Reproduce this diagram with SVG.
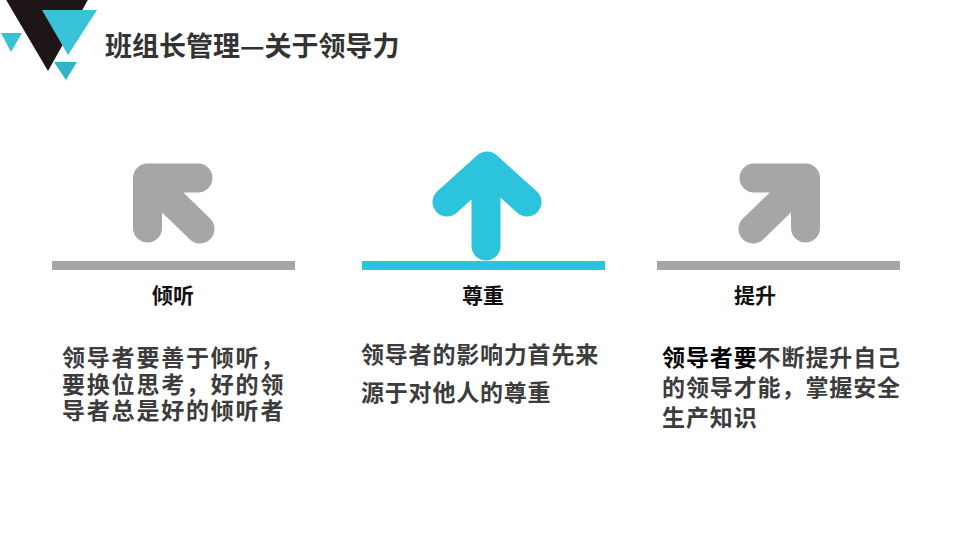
<svg xmlns="http://www.w3.org/2000/svg" width="960" height="540" viewBox="0 0 960 540">
<style>
.t{font-family:"Noto Sans CJK SC","Microsoft YaHei",sans-serif;font-weight:bold}
.title{font-size:27px;fill:#333}
.lbl{font-size:21px;fill:#111;text-anchor:middle}
.body{font-size:23px;fill:#3c3c3c}
.gray{fill:none;stroke:#a6a6a6;stroke-linecap:round;stroke-linejoin:round;stroke-width:29}
.cyan{fill:none;stroke:#2cc3dc;stroke-linecap:round;stroke-linejoin:round;stroke-width:29}
.barg{fill:#a6a6a6}
.barc{fill:#2cc3dc}
</style>
<rect width="960" height="540" fill="#fff"/>
<g id="logo">
<polygon points="5,-2 89,-2 48,71" fill="#1e1616"/>
<polygon points="42,10 97,10 68,55" fill="#38c2d8"/>
<polygon points="1,33 22,33 11,52" fill="#38c2d8"/>
<polygon points="54,62 77,62 66,80" fill="#2fb4c8"/>
</g>
<g id="title"><text class="t title" x="105" y="56">班组长管理—关于领导力</text></g>
<g id="node-listen">
<path class="gray" d="M198,178 L147.5,178 L147.5,228 M147.5,178 L200,229"/>
<rect class="barg" x="52" y="261" width="243" height="9"/>
<text class="t lbl" x="173" y="303">倾听</text>
<text class="t body" letter-spacing="1.8"><tspan x="62" y="366">领导者要善于倾听，</tspan><tspan x="62" dy="26.5">要换位思考，好的领</tspan><tspan x="62" dy="26.5">导者总是好的倾听者</tspan></text>
</g>
<g id="node-respect">
<path class="cyan" d="M486,246 L486,172 M447,202 L487,166 L527,202"/>
<rect class="barc" x="362" y="261" width="243" height="9"/>
<text class="t lbl" x="483" y="303">尊重</text>
<text class="t body" letter-spacing="0.8"><tspan x="361" y="363">领导者的影响力首先来</tspan><tspan x="361" dy="38">源于对他人的尊重</tspan></text>
</g>
<g id="node-improve">
<path class="gray" d="M754,178 L805.5,178 L805.5,228 M805.5,178 L753,229"/>
<rect class="barg" x="657" y="261" width="243" height="9"/>
<text class="t lbl" x="755" y="303">提升</text>
<text class="t body" letter-spacing="0.9"><tspan x="662" y="366"><tspan fill="#000">领导者要</tspan>不断提升自己</tspan><tspan x="662" dy="30">的领导才能，掌握安全</tspan><tspan x="662" dy="30">生产知识</tspan></text>
</g>
</svg>
